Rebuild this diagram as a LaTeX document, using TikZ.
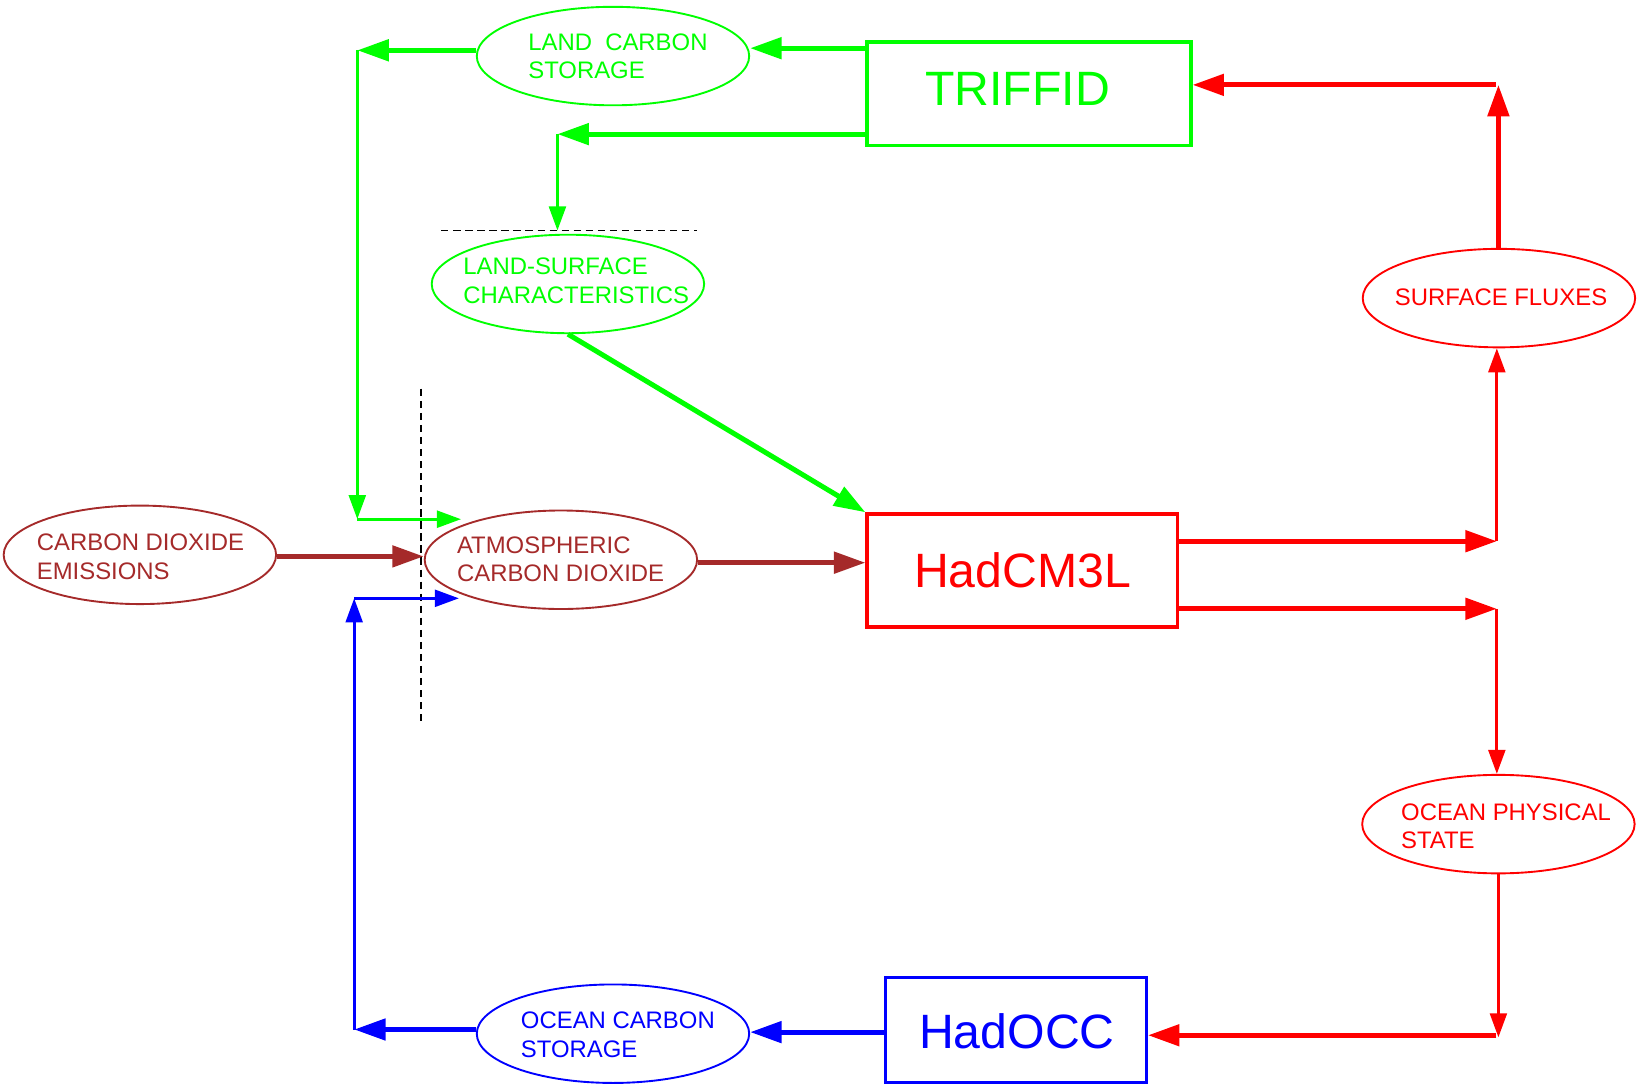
\documentclass[tikz,border=0pt]{standalone}
\usepackage{fontspec}
\setmainfont{Liberation Sans}
\usetikzlibrary{arrows.meta,shapes.geometric,calc}

\definecolor{lgreen}{RGB}{0,255,0}
\definecolor{lred}{RGB}{255,0,0}
\definecolor{lblue}{RGB}{0,0,255}
\definecolor{lbrown}{RGB}{165,42,42}

\begin{document}
\begin{tikzpicture}[x=1pt,y=-1pt,
  model/.style={draw, line width=3.2pt, inner sep=0pt},
  modeltext/.style={font=\fontsize{46}{50}\selectfont, inner sep=0pt},
  oval/.style={ellipse, draw, line width=1.8pt, inner sep=0pt,
               minimum width=260pt, minimum height=94pt},
  ovaltext/.style={font=\fontsize{22.8}{27}\selectfont, align=left,
                   anchor=west, inner sep=0pt},
  fat/.style={line width=4.8pt, -{Triangle[length=30pt,width=20pt]}},
  slim/.style={line width=2.9pt, -{Triangle[length=23pt,width=16pt]}},
  guide/.style={draw=black, line width=1.5pt, dash pattern=on 7pt off 4.5pt},
]
\useasboundingbox (0,0) rectangle (1568,1035);

% model boxes
\node[model, lgreen, minimum width=309pt, minimum height=99pt] (triffid) at (982,89.5) {};
\node[modeltext, text=lgreen] (triffidT) at (971,85) {TRIFFID};
\node[model, lred, minimum width=296pt, minimum height=108pt] (hadcm) at (975.5,544.5) {};
\node[modeltext, text=lred] (hadcmT) at (976,544) {HadCM3L};
\node[model, lblue, minimum width=249pt, minimum height=100pt] (hadocc) at (969.5,983) {};
\node[modeltext, text=lblue] (hadoccT) at (970.5,984) {HadOCC};

% exchanged quantities
\node[oval, lgreen] (lcs) at (585,53.5) {};
\node[ovaltext, text=lgreen] (lcsT) at (504,53.7) {LAND\ \ CARBON\\STORAGE};
\node[oval, lgreen] (lsc) at (542,271) {};
\node[ovaltext, text=lgreen] (lscT) at (442,268) {LAND-SURFACE\\CHARACTERISTICS};
\node[oval, lred] (sf) at (1430.5,284.5) {};
\node[ovaltext, text=lred] (sfT) at (1331,284) {SURFACE FLUXES};
\node[oval, lbrown] (cde) at (133.5,529.5) {};
\node[ovaltext, text=lbrown] (cdeT) at (35,531.4) {CARBON DIOXIDE\\EMISSIONS};
\node[oval, lbrown] (acd) at (535.3,534.2) {};
\node[ovaltext, text=lbrown] (acdT) at (436,533.7) {ATMOSPHERIC\\CARBON DIOXIDE};
\node[oval, lred] (ops) at (1430,786.5) {};
\node[ovaltext, text=lred] (opsT) at (1337,788.5) {OCEAN PHYSICAL\\STATE};
\node[oval, lblue] (ocs) at (585,986.5) {};
\node[ovaltext, text=lblue] (ocsT) at (497,987.5) {OCEAN CARBON\\STORAGE};

% dashed separators
\draw[guide] (421,220) -- (665,220);
\draw[guide] (402,371) -- (402,692);

% routing points
\coordinate (lcsTurn) at (341,48);
\coordinate (acdLand) at (341,495.5);
\coordinate (acdLandTip) at (440,495.5);
\coordinate (lscTurn) at (532,128);
\coordinate (lscTip) at (532,220);
\coordinate (ocsTurn) at (338,982.5);
\coordinate (acdOcean) at (338,571);
\coordinate (acdOceanTip) at (438,571);
\coordinate (sfTurn) at (1428.5,516.5);
\coordinate (opsTurn) at (1428.5,581);
\coordinate (triffidTurn) at (1430,81);
\coordinate (hadoccTurn) at (1430,988);

% land carbon cycle
\draw[fat, lgreen] (triffid.west |- 0,46) -- (lcs.east |- 0,46);
\draw[fat, lgreen] (lcs.west |- lcsTurn) -- (lcsTurn);
\draw[slim, lgreen] (lcsTurn) -- (acdLand);
\draw[slim, lgreen] (acdLand) -- (acdLandTip);
\draw[fat, lgreen] (triffid.west |- lscTurn) -- (lscTurn);
\draw[slim, lgreen] (lscTurn) -- (lscTip);
\draw[fat, lgreen] (lsc.south) -- (hadcm.north west);

% atmospheric CO2
\draw[fat, lbrown] (cde.east |- 0,531) -- (acd.west |- 0,531);
\draw[fat, lbrown] (acd.east |- 0,537) -- (hadcm.west |- 0,537);

% ocean carbon cycle
\draw[fat, lblue] (hadocc.west |- 0,985) -- (ocs.east |- 0,985);
\draw[fat, lblue] (ocs.west |- ocsTurn) -- (ocsTurn);
\draw[slim, lblue] (ocsTurn) -- (acdOcean);
\draw[slim, lblue] (acdOcean) -- (acdOceanTip);

% physical climate coupling
\draw[fat, lred] (hadcm.east |- sfTurn) -- (sfTurn);
\draw[slim, lred] (sfTurn) -- (sfTurn |- sf.south);
\draw[fat, lred] (sf.north -| triffidTurn) -- (triffidTurn);
\draw[fat, lred] ($(triffidTurn)+(-2.5,0)$) -- (triffid.east |- triffidTurn);
\draw[fat, lred] (hadcm.east |- opsTurn) -- (opsTurn);
\draw[slim, lred] (opsTurn) -- (opsTurn |- ops.north);
\draw[slim, lred] (ops.south) -- (ops.south |- 0,990);
\draw[fat, lred] ($(hadoccTurn)+(-2,0)$) -- (hadocc.east |- hadoccTurn);
\end{tikzpicture}
\end{document}
